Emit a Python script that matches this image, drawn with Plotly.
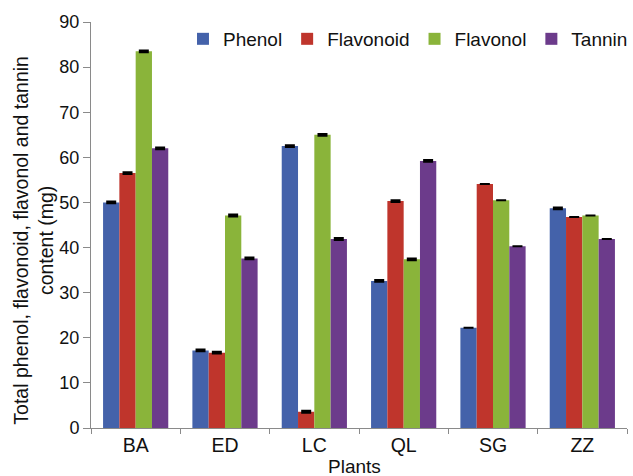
import plotly.graph_objects as go

plants = ["BA", "ED", "LC", "QL", "SG", "ZZ"]
series_names = ["Phenol", "Flavonoid", "Flavonol", "Tannin"]
phenol = [50.0, 17.2, 62.5, 32.6, 22.2, 48.7]
flavonoid = [56.5, 16.7, 3.6, 50.3, 54.1, 46.8]
flavonol = [83.5, 47.1, 65.0, 37.4, 50.5, 47.1]
tannin = [62.0, 37.6, 41.9, 59.2, 40.3, 41.9]
phenol_err = [0.2, 0.2, 0.2, 0.2, 0.0, 0.2]
flavonoid_err = [0.2, 0.2, 0.2, 0.2, 0.0, 0.0]
flavonol_err = [0.2, 0.2, 0.2, 0.2, 0.0, 0.0]
tannin_err = [0.2, 0.2, 0.2, 0.2, 0.0, 0.0]
colors = ["#4462AA", "#BF352C", "#8AB43A", "#6C3B8B"]

values = [phenol, flavonoid, flavonol, tannin]
errors = [phenol_err, flavonoid_err, flavonol_err, tannin_err]

fig = go.Figure()
for name, vals, errs, col in zip(series_names, values, errors, colors):
    fig.add_trace(go.Bar(
        x=plants, y=vals, name=name,
        marker=dict(color=col, line=dict(width=0)),
        error_y=dict(type="data", array=errs, visible=True,
                     color="black", thickness=2, width=5),
    ))

font_family = "Arial, Liberation Sans, sans-serif"
fig.update_layout(
    width=633, height=476,
    margin=dict(l=91, r=0, t=22, b=48),
    paper_bgcolor="white", plot_bgcolor="white",
    barmode="group", bargap=0.27, bargroupgap=0,
    font=dict(family=font_family, size=18, color="#111111"),
    showlegend=True,
    legend=dict(orientation="h", x=(184 - 91) / 542, xanchor="left",
                y=1.005, yanchor="top", bgcolor="rgba(0,0,0,0)",
                font=dict(size=19), traceorder="normal"),
    xaxis=dict(showline=True, linecolor="#8a8a8a", linewidth=1,
               ticks="outside", tickson="boundaries", ticklen=5,
               tickcolor="#8a8a8a", showgrid=False,
               tickfont=dict(size=19.5)),
    yaxis=dict(range=[0, 90], dtick=10, showline=True, linecolor="#8a8a8a",
               linewidth=1, ticks="outside", ticklen=7, tickcolor="#8a8a8a",
               showgrid=False, zeroline=False, tickfont=dict(size=18)),
)
fig.add_annotation(text="Total phenol, flavonoid, flavonol and tannin<br>content (mg)",
                   xref="paper", yref="paper", x=(32 - 91) / 542, y=(428 - 240) / 406,
                   xanchor="center", yanchor="middle", textangle=-90,
                   showarrow=False, font=dict(size=19.5))
fig.add_annotation(text="Plants", xref="paper", yref="paper",
                   x=(357 - 91) / 542, y=-0.095, xanchor="center", yanchor="middle",
                   showarrow=False, font=dict(size=19))

fig.write_html("out.html")
